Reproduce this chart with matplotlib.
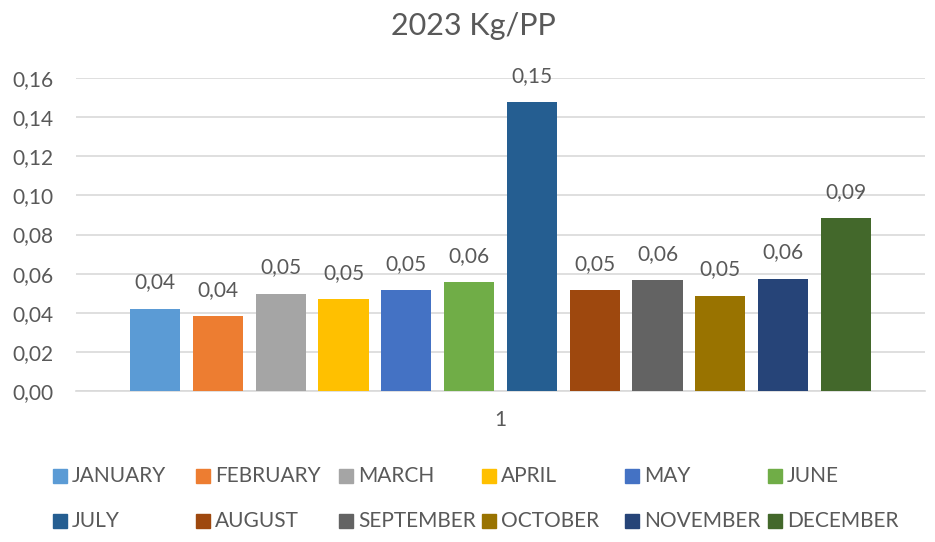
import matplotlib.pyplot as plt
from matplotlib.patches import Rectangle
import numpy as np

plt.rcParams['font.family'] = ['Lato', 'DejaVu Sans']

# --- Data ---
months = ['JANUARY', 'FEBRUARY', 'MARCH', 'APRIL', 'MAY', 'JUNE',
          'JULY', 'AUGUST', 'SEPTEMBER', 'OCTOBER', 'NOVEMBER', 'DECEMBER']
values = [0.042, 0.0383, 0.0496, 0.047, 0.0516, 0.0557,
          0.1477, 0.0516, 0.0567, 0.0486, 0.0573, 0.0884]
colors = ['#5B9BD5', '#ED7D31', '#A5A5A5', '#FFC000', '#4472C4', '#70AD47',
          '#255E91', '#9E480E', '#636363', '#997300', '#264478', '#43682B']
yticks = [0.00, 0.02, 0.04, 0.06, 0.08, 0.10, 0.12, 0.14, 0.16]
category = '1'

TXT = '#595959'
W, H = 935, 542

fig = plt.figure(figsize=(W / 100, H / 100), dpi=100)
ax = fig.add_axes([76 / W, 1 - 391 / H, (925 - 76) / W, (391 - 78) / H])

x = np.arange(len(values))
ax.bar(x, values, width=0.8, color=colors, zorder=3)

# data labels
for xi, v in zip(x, values):
    ax.annotate(f'{v:.2f}'.replace('.', ','), (xi, v), xytext=(0, 19),
                textcoords='offset points', ha='center', va='center',
                fontsize=15, color=TXT)

ax.set_ylim(0, 0.16)
ax.set_xlim(-1.26, len(values) - 1 + 1.26)
ax.set_yticks(yticks)
ax.set_yticklabels([f'{t:.2f}'.replace('.', ',') for t in yticks])
ax.set_xticks([(len(values) - 1) / 2])
ax.set_xticklabels([category])
ax.tick_params(axis='both', length=0, labelsize=15, colors=TXT)
ax.tick_params(axis='x', pad=14)
ax.tick_params(axis='y', pad=16)
ax.grid(axis='y', color='#D9D9D9', linewidth=1.2, zorder=0)
for s in ['top', 'right', 'left']:
    ax.spines[s].set_visible(False)
ax.spines['bottom'].set_color('#D9D9D9')
ax.spines['bottom'].set_linewidth(1.2)

fig.text(473 / W, 1 - 26 / H, '2023 Kg/PP', ha='center', va='center',
         fontsize=22, color=TXT)

# legend, laid out in a uniform grid like the spreadsheet one
for i, (m, c) in enumerate(zip(months, colors)):
    row, col = divmod(i, 6)
    lx = 53 + col * 143
    ly = 476 + row * 45
    fig.add_artist(Rectangle((lx / W, 1 - (ly + 7) / H), 14 / W, 14 / H,
                             transform=fig.transFigure, color=c))
    fig.text((lx + 19) / W, 1 - ly / H, m, ha='left', va='center',
             fontsize=15, color=TXT)

fig.savefig('out.png', dpi=100)
